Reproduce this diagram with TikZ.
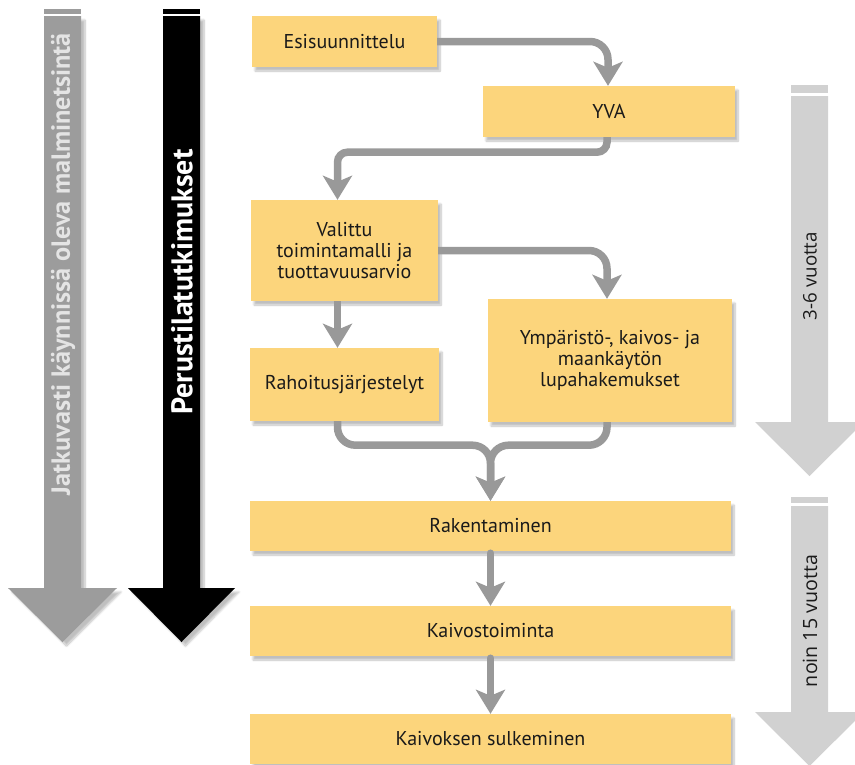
\documentclass[tikz,border=0pt]{standalone}
\usepackage{fontspec}
\usepackage{graphicx}
\setmainfont{PT Sans}
\newfontfamily\labelfont{Open Sans}
\usetikzlibrary{arrows.meta,shadows.blur}

\definecolor{boxfill}{HTML}{FCD57C}
\definecolor{flowgray}{HTML}{999999}
\definecolor{leftgray}{HTML}{9C9C9C}
\definecolor{rightgray}{HTML}{D1D1D1}
\definecolor{inkdark}{HTML}{1A1A1A}
\definecolor{paletext}{HTML}{E4E4E4}

\tikzset{
  stage/.style={rectangle, fill=boxfill, inner sep=0pt, align=center,
    text=inkdark, font=\fontsize{20}{21}\selectfont,
    blur shadow={shadow xshift=3pt, shadow yshift=-4pt, shadow blur steps=8, shadow opacity=25}},
  conn/.style={draw=flowgray, line width=7.5pt, rounded corners=18pt,
    -{Stealth[length=24pt,width=29pt,inset=6pt]}},
  bigshadow/.style={blur shadow={shadow xshift=4pt, shadow yshift=-4pt, shadow blur steps=8, shadow opacity=25}},
  vlabel/.style={rotate=90, inner sep=0pt}
}

\begin{document}
\begin{tikzpicture}[x=1pt,y=-1pt]
\useasboundingbox (0,0) rectangle (855,764);

% left timeline arrows
\fill[leftgray] (44,9) rectangle (81,14);
\path[fill=leftgray, bigshadow] (44,16) -- (81,16) -- (81,588) -- (117,588) -- (62.5,642) -- (8,588) -- (44,588) -- cycle;
\fill[black] (163,9) rectangle (200,14);
\path[fill=black, bigshadow] (163,16) -- (200,16) -- (200,588) -- (235,588) -- (181.5,642) -- (128,588) -- (163,588) -- cycle;
\node[vlabel, text=paletext, font=\bfseries] (explore) at (63,264)
  {\resizebox{462pt}{!}{Jatkuvasti käynnissä oleva malminetsintä}};
\node[vlabel, text=white, font=\bfseries] (baseline) at (182,282)
  {\resizebox{265pt}{!}{Perustilatutkimukset}};

% right duration arrows
\fill[rightgray] (791,85) rectangle (828,93);
\path[fill=rightgray] (791,96) -- (828,96) -- (828,422) -- (864,422) -- (809.5,476) -- (755,422) -- (791,422) -- cycle;
\fill[rightgray] (791,497) rectangle (828,503);
\path[fill=rightgray] (791,506) -- (828,506) -- (828,712) -- (864,712) -- (809.5,766) -- (755,712) -- (791,712) -- cycle;
\node[vlabel, text=inkdark, font=\labelfont] (dur1) at (810,276)
  {\resizebox{88pt}{!}{3-6 vuotta}};
\node[vlabel, text=inkdark, font=\labelfont] (dur2) at (810,621)
  {\resizebox{132pt}{!}{noin 15 vuotta}};

% process stages
\node[stage, minimum width=185pt, minimum height=51pt] (esi) at (344.5,41.5) {Esisuunnittelu};
\node[stage, minimum width=252pt, minimum height=51pt] (yva) at (609,111.5) {YVA};
\node[stage, minimum width=187pt, minimum height=101pt] (val) at (344.5,250.5) {Valittu\\toimintamalli ja\\tuottavuusarvio};
\node[stage, minimum width=189pt, minimum height=73pt] (rah) at (344.5,384.5) {Rahoitusjärjestelyt};
\node[stage, minimum width=244pt, minimum height=123pt] (ymp) at (610,360.5) {Ympäristö-, kaivos- ja\\maankäytön\\lupahakemukset};
\node[stage, minimum width=481pt, minimum height=50pt] (rak) at (490.5,526) {Rakentaminen};
\node[stage, minimum width=481pt, minimum height=50pt] (kai) at (490.5,631) {Kaivostoiminta};
\node[stage, minimum width=481pt, minimum height=50pt] (sul) at (490.5,739) {Kaivoksen sulkeminen};

% connectors
\draw[conn] (esi.east) -| ([xshift=-1pt]yva.north);
\draw[conn, rounded corners=10pt] ([xshift=-2pt]yva.south) -- ++(0,15) -| ([xshift=-7pt]val.north);
\draw[conn] (val.east) -| ([xshift=-3pt]ymp.north);
\draw[conn] ([xshift=-7pt]val.south) -- ([xshift=-7pt]rah.north);
\draw[conn] ([xshift=-7pt]rah.south) -- ++(0,24) -| (rak.north);
\draw[conn] ([xshift=-3pt]ymp.south) -- ++(0,23) -| (rak.north);
\draw[conn, line cap=round, shorten <=2pt] (rak.south) -- (kai.north);
\draw[conn, line cap=round, shorten <=2pt] (kai.south) -- (sul.north);
\end{tikzpicture}
\end{document}
